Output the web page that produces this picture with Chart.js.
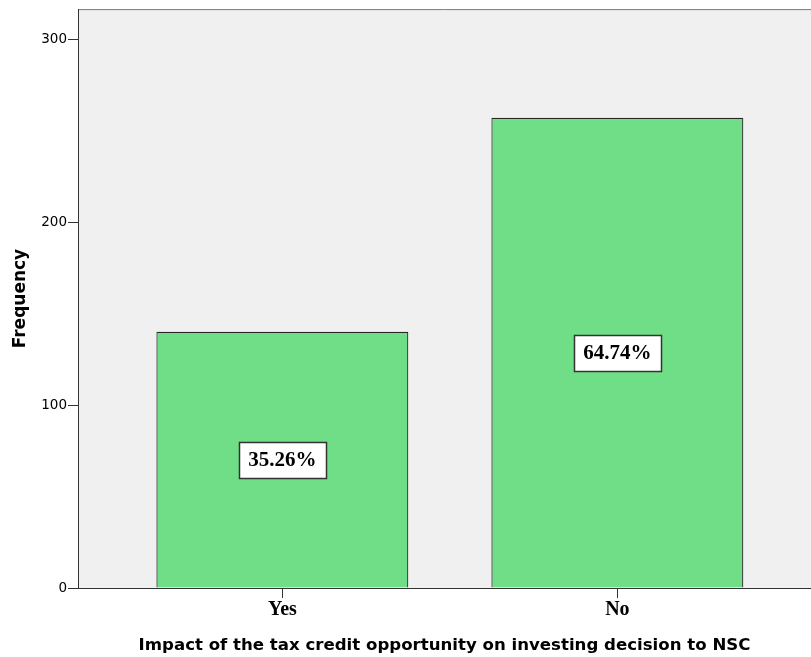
<!DOCTYPE html>
<html>
<head>
<meta charset="utf-8">
<script src="https://cdn.jsdelivr.net/npm/chart.js@4.4.1/dist/chart.umd.min.js"></script>
<style>
  html, body { margin: 0; padding: 0; background: #ffffff; }
  #wrap { width: 811px; height: 657px; }
</style>
</head>
<body>
<div id="wrap"><canvas id="chart"></canvas></div>
<script>
const categories = ["Yes", "No"];
const frequencies = [140, 257];
const percentLabels = ["35.26%", "64.74%"];
const yTicks = [0, 100, 200, 300];

const BAR_FILL = "#70de86";
const BAR_EDGE = "#262626";
const PLOT_BG = "#f0f0f0";

// grey plot background + thin top frame line
const plotBackground = {
  id: "plotBackground",
  beforeDraw(chart) {
    const { ctx, chartArea: a } = chart;
    ctx.save();
    ctx.fillStyle = PLOT_BG;
    ctx.fillRect(a.left, a.top, a.right - a.left, a.bottom - a.top);
    ctx.strokeStyle = "#7a7a7a";
    ctx.lineWidth = 1;
    ctx.beginPath();
    ctx.moveTo(a.left, a.top + 0.5);
    ctx.lineTo(a.right, a.top + 0.5);
    ctx.stroke();
    ctx.restore();
  },
};

// boxed percentage labels in the middle of each bar
const percentBoxes = {
  id: "percentBoxes",
  afterDatasetsDraw(chart) {
    const { ctx } = chart;
    const meta = chart.getDatasetMeta(0);
    ctx.save();
    ctx.font = "bold 21px 'Liberation Serif', 'Times New Roman', serif";
    ctx.textAlign = "center";
    ctx.textBaseline = "middle";
    meta.data.forEach((bar, i) => {
      const { x, y, base } = bar.getProps(["x", "y", "base"], true);
      const cy = (y + base) / 2;
      const w = 87, h = 36;
      const left = Math.round(x - w / 2) + 0.5;
      const top = Math.round(cy - h / 2) + 0.5;
      ctx.fillStyle = "#ffffff";
      ctx.fillRect(left, top, w, h);
      ctx.strokeStyle = "#333333";
      ctx.lineWidth = 1.5;
      ctx.strokeRect(left, top, w, h);
      ctx.fillStyle = "#000000";
      ctx.fillText(percentLabels[i], x, cy + 1);
    });
    ctx.restore();
  },
};

new Chart(document.getElementById("chart").getContext("2d"), {
  type: "bar",
  data: {
    datasets: [
      {
        data: frequencies.map((v, i) => ({ x: i + 1, y: v })),
        backgroundColor: BAR_FILL,
        borderColor: BAR_EDGE,
        borderWidth: 1.2,
        barPercentage: 0.752,
        categoryPercentage: 1,
      },
    ],
  },
  options: {
    responsive: true,
    maintainAspectRatio: false,
    animation: false,
    layout: { padding: { top: 8, right: 0, left: 0, bottom: 0 } },
    plugins: {
      legend: { display: false },
      tooltip: { enabled: false },
    },
    scales: {
      x: {
        type: "linear",
        offset: false,
        min: 0.39,
        max: 2.578,
        afterBuildTicks: (scale) => {
          scale.ticks = categories.map((c, i) => ({ value: i + 1 }));
        },
        afterFit: (scale) => { scale.height = 69; },
        grid: {
          display: true,
          offset: false,
          drawOnChartArea: false,
          drawTicks: true,
          tickLength: 10,
          color: "#333333",
        },
        border: { display: true, color: "#333333", width: 1 },
        ticks: {
          padding: 0,
          color: "#000000",
          font: { family: "'Liberation Serif', 'Times New Roman', serif", size: 20, weight: "bold" },
          callback: (v) => categories[Math.round(v) - 1] || "",
        },
        title: {
          display: true,
          text: "Impact of the tax credit opportunity on investing decision to NSC",
          color: "#000000",
          font: { family: "'DejaVu Sans', sans-serif", size: 16.6, weight: "bold" },
          padding: { top: 0, bottom: 1 },
        },
      },
      y: {
        min: 0,
        max: 316.4,
        afterBuildTicks: (scale) => {
          scale.ticks = yTicks.map((v) => ({ value: v }));
        },
        afterFit: (scale) => { scale.width = 78; },
        grid: {
          display: true,
          drawOnChartArea: false,
          drawTicks: true,
          tickLength: 10,
          color: "#333333",
        },
        border: { display: true, color: "#333333", width: 1 },
        ticks: {
          padding: 1,
          color: "#000000",
          font: { family: "'DejaVu Sans', sans-serif", size: 13.5 },
        },
        title: {
          display: true,
          text: "Frequency",
          color: "#000000",
          font: { family: "'DejaVu Sans', sans-serif", size: 17, weight: "bold" },
          padding: { top: 10, bottom: 0 },
        },
      },
    },
  },
  plugins: [plotBackground, percentBoxes],
});
</script>
</body>
</html>
